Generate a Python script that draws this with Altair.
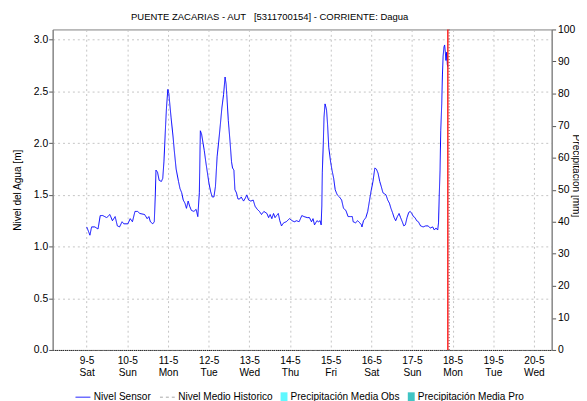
import altair as alt
import pandas as pd

FONT = "Liberation Sans"

# hours after 2020-05-09 00:00 and water level [m]
hours = [
    0.0, 1.0, 1.9, 2.9, 4.8, 6.7, 8.0, 9.5, 11.8, 13.7,
    15.2, 16.8, 18.1, 19.4, 20.9, 21.9, 24.3, 25.7, 27.0, 28.5,
    30.0, 31.4, 34.2, 35.7, 36.7, 37.6, 39.0, 39.9, 40.5, 40.9,
    41.8, 42.8, 44.1, 44.9, 45.6, 46.6, 47.1, 47.9, 48.5, 49.0,
    49.8, 51.0, 51.7, 52.8, 54.2, 55.1, 56.1, 57.0, 58.0, 58.9,
    59.9, 60.8, 61.8, 63.3, 64.6, 65.6, 66.5, 67.1, 67.8, 68.4,
    69.4, 70.3, 71.3, 72.2, 73.2, 74.1, 75.1, 76.0, 77.0, 77.9,
    78.9, 79.8, 80.8, 81.7, 82.3, 82.7, 83.6, 84.6, 85.5, 86.1,
    86.9, 87.5, 88.4, 89.3, 90.3, 91.2, 92.6, 93.7, 94.5, 95.6,
    96.9, 98.3, 99.4, 100.7, 102.0, 103.2, 104.6, 106.4, 107.4, 108.3,
    109.3, 110.3, 111.2, 112.1, 113.1, 114.0, 115.0, 116.3, 117.8, 119.7,
    121.3, 122.6, 123.9, 125.4, 127.0, 128.3, 130.2, 131.5, 132.7, 133.6,
    134.5, 135.9, 136.8, 137.8, 138.4, 138.8, 139.1, 139.7, 140.1, 140.7,
    141.2, 141.6, 142.2, 142.9, 143.9, 144.8, 145.8, 146.7, 147.9, 149.2,
    150.5, 151.6, 153.0, 154.3, 155.9, 156.8, 157.3, 158.7, 160.0, 161.2,
    162.2, 162.5, 163.4, 164.8, 165.9, 166.9, 167.8, 169.0, 170.1, 171.0,
    172.0, 173.0, 173.9, 174.9, 175.8, 176.7, 177.7, 178.7, 179.6, 180.5,
    181.5, 182.4, 183.4, 184.4, 185.3, 186.3, 187.2, 188.1, 189.1, 190.1,
    191.0, 191.9, 192.9, 193.8, 194.8, 195.8, 197.1, 198.6, 200.1, 201.5,
    202.8, 204.3, 205.2, 206.2, 207.2, 207.7, 208.1, 208.6, 209.0, 209.6,
    210.0, 210.4, 210.9, 211.3, 211.7, 212.1, 212.5, 212.9, 213.2,
]
nivel = [
    1.19, 1.15, 1.11, 1.19, 1.19, 1.17, 1.30, 1.30, 1.28, 1.31,
    1.25, 1.29, 1.20, 1.19, 1.24, 1.22, 1.22, 1.27, 1.24, 1.34,
    1.34, 1.32, 1.31, 1.27, 1.29, 1.24, 1.22, 1.24, 1.49, 1.74,
    1.72, 1.64, 1.63, 1.66, 1.82, 2.18, 2.34, 2.52, 2.48, 2.39,
    2.25, 2.06, 1.93, 1.75, 1.63, 1.56, 1.52, 1.45, 1.42, 1.37,
    1.44, 1.39, 1.35, 1.34, 1.36, 1.29, 1.52, 2.12, 2.09, 2.03,
    1.93, 1.82, 1.71, 1.61, 1.53, 1.48, 1.48, 1.58, 1.87, 2.01,
    2.18, 2.34, 2.47, 2.64, 2.57, 2.47, 2.22, 2.02, 1.82, 1.76,
    1.74, 1.55, 1.52, 1.46, 1.46, 1.48, 1.44, 1.47, 1.50, 1.45,
    1.44, 1.45, 1.39, 1.36, 1.34, 1.31, 1.34, 1.32, 1.28, 1.31,
    1.27, 1.32, 1.28, 1.30, 1.32, 1.25, 1.20, 1.23, 1.24, 1.27,
    1.25, 1.24, 1.25, 1.24, 1.30, 1.29, 1.28, 1.28, 1.24, 1.27,
    1.21, 1.25, 1.24, 1.25, 1.21, 1.39, 1.72, 2.01, 2.25, 2.38,
    2.35, 2.32, 2.18, 1.96, 1.83, 1.74, 1.66, 1.55, 1.50, 1.48,
    1.45, 1.37, 1.35, 1.29, 1.29, 1.29, 1.24, 1.23, 1.25, 1.23,
    1.21, 1.19, 1.25, 1.28, 1.34, 1.44, 1.53, 1.63, 1.76, 1.75,
    1.71, 1.63, 1.58, 1.52, 1.51, 1.50, 1.45, 1.42, 1.37, 1.33,
    1.28, 1.25, 1.29, 1.32, 1.28, 1.24, 1.20, 1.21, 1.28, 1.33,
    1.34, 1.32, 1.29, 1.28, 1.25, 1.24, 1.20, 1.19, 1.20, 1.20,
    1.18, 1.19, 1.16, 1.18, 1.16, 1.23, 1.48, 1.74, 2.12, 2.38,
    2.66, 2.84, 2.93, 2.95, 2.88, 2.80, 2.88, 2.76, 2.74,
]

start_time = "2020-05-09T00:00:00"
now_time = "2020-05-17T21:12:00"
tick_days = [9, 10, 11, 12, 13, 14, 15, 16, 17, 18, 19, 20]
left_ticks = [0.0, 0.5, 1.0, 1.5, 2.0, 2.5, 3.0]
right_ticks = [0, 10, 20, 30, 40, 50, 60, 70, 80, 90, 100]
series_names = ["Nivel Sensor", "Nivel Medio Historico"]
series_colors = ["#0000ff", "#a8a8a8"]
series_dash = [[1, 0], [3, 3]]
precip_names = ["Precipitación Media Obs", "Precipitación Media Pro"]
precip_colors = ["#5ff8ff", "#40c4c4"]
title_text = "PUENTE ZACARIAS - AUT\u00a0\u00a0\u00a0[5311700154] - CORRIENTE: Dagua"

base = pd.Timestamp(start_time)
df_line = pd.DataFrame({
    "t": base + pd.to_timedelta(hours, unit="h"),
    "v": nivel,
    "serie": series_names[0],
})
# legend-only series (no visible data in the reference), kept outside the axis range
df_hist = pd.DataFrame({
    "t": [pd.Timestamp("2020-05-01T00:00:00"), pd.Timestamp("2020-05-01T01:00:00")],
    "v": [1.0, 1.0],
    "serie": series_names[1],
})
df_line = pd.concat([df_line, df_hist], ignore_index=True)

df_precip = pd.DataFrame({
    "t": [pd.Timestamp("2020-05-01T00:00:00")] * 2,
    "p": [0, 0],
    "cat": precip_names,
})
df_now = pd.DataFrame({"t": [pd.Timestamp(now_time)]})

x_scale = alt.Scale(domain=[
    alt.DateTime(year=2020, month=5, date=8, hours=6, minutes=50),
    alt.DateTime(year=2020, month=5, date=20, hours=7, minutes=35),
])
grid_color = "#c4c4c4"

x_axis = alt.Axis(
    values=[alt.DateTime(year=2020, month=5, date=d) for d in tick_days],
    labelExpr="[timeFormat(datum.value, '%-d-%-m'), timeFormat(datum.value, '%a')]",
    title=None, grid=True, gridColor=grid_color, gridDash=[2, 3], gridWidth=1,
    ticks=False, domain=True, domainColor="#222222", domainDash=[1, 1],
    labelFont=FONT, labelFontSize=10.3, labelColor="#000000", labelPadding=6,
    labelAngle=0, labelLineHeight=11.5, labelFlush=False, labelOverlap=False,
)
left_axis = alt.Axis(
    values=left_ticks, format=".1f", title="Nivel del Agua [m]",
    grid=True, gridColor=grid_color, gridDash=[2, 3],
    tickSize=4, tickColor="#555555", domainColor="#808080",
    labelFont=FONT, labelFontSize=10.5, labelColor="#000000", labelPadding=1,
    titleFont=FONT, titleFontSize=10.2, titleFontWeight="normal", titleColor="#000000",
    titlePadding=11,
)
right_axis = alt.Axis(
    orient="right", values=right_ticks, title="Precipitación [mm]", grid=False,
    tickSize=4, tickColor="#555555", domainColor="#808080",
    labelFont=FONT, labelFontSize=10.5, labelColor="#000000", labelPadding=2,
    titleFont=FONT, titleFontSize=10.2, titleFontWeight="normal", titleColor="#000000",
    titleX=19, titleY=148, titleAngle=90, titleBaseline="bottom", titleAlign="center",
)

leg_lines = alt.Legend(
    orient="none", legendX=22.7, legendY=364.5, direction="horizontal", title=None,
    symbolType="stroke", symbolSize=225, symbolStrokeWidth=1, labelOffset=3,
    columnPadding=6.6, labelFont=FONT, labelFontSize=10.2, labelColor="#000000", padding=0,
)
leg_precip = alt.Legend(
    orient="none", legendX=229.5, legendY=367, direction="horizontal", title=None,
    symbolType="M-0.7,-0.9H0.7V0.9H-0.7Z", symbolSize=100, symbolStrokeWidth=0,
    labelOffset=1.5, columnPadding=6, labelFont=FONT, labelFontSize=10.2,
    labelColor="#000000", padding=0,
)

line = alt.Chart(df_line).mark_line(clip=True, strokeWidth=1).encode(
    x=alt.X("t:T", scale=x_scale, axis=x_axis),
    y=alt.Y("v:Q", scale=alt.Scale(domain=[0, 3.1], nice=False), axis=left_axis),
    color=alt.Color("serie:N", scale=alt.Scale(domain=series_names, range=series_colors), legend=leg_lines),
    strokeDash=alt.StrokeDash("serie:N", scale=alt.Scale(domain=series_names, range=series_dash), legend=leg_lines),
    order=alt.Order("t:T"),
)

precip = alt.Chart(df_precip).mark_bar(clip=True).encode(
    x=alt.X("t:T"),
    y=alt.Y("p:Q", scale=alt.Scale(domain=[0, 100], nice=False), axis=right_axis),
    fill=alt.Fill("cat:N", scale=alt.Scale(domain=precip_names, range=precip_colors), legend=leg_precip),
)

now_rule = alt.Chart(df_now).mark_rule(color="#ff0000", strokeWidth=1.3).encode(x="t:T")
now_dots = alt.Chart(df_now).mark_rule(color="#7a3b3b", strokeWidth=1, strokeDash=[1, 2], xOffset=1.3).encode(x="t:T")

chart = alt.layer(precip, line, now_rule, now_dots).resolve_scale(y="independent").properties(
    width=506, height=325,
    autosize=alt.AutoSizeParams(type="none"),
    padding={"left": 45.3, "top": 19, "right": 27.7, "bottom": 49},
    title=alt.TitleParams(title_text, font=FONT, fontSize=9.6, fontWeight="normal",
                          color="#000000", offset=3, dx=-33, anchor="middle"),
).configure(font=FONT).configure_view(stroke="#808080", strokeWidth=1)

chart.save("out.html", embed_options={"renderer": "svg", "actions": False})
